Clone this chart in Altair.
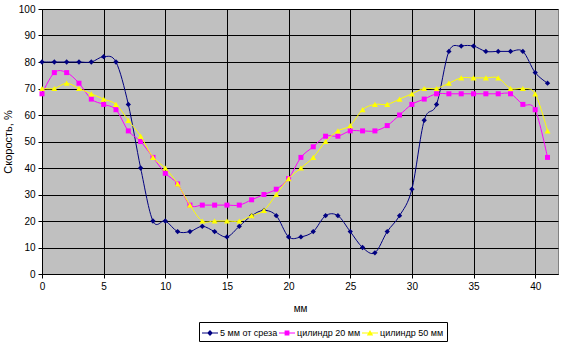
import altair as alt
import pandas as pd

x_mm = list(range(42))
series_names = ["5 мм от среза", "цилиндр 20 мм", "цилиндр 50 мм"]
s_5mm = [80, 80, 80, 80, 80, 82, 80, 64, 40, 20, 20, 16, 16, 18, 16, 14, 18, 22, 24, 22, 14,
         14, 16, 22, 22, 16, 10, 8, 16, 22, 32, 58, 64, 84, 86, 86, 84, 84, 84, 84, 76, 72]
s_cyl20 = [68, 76, 76, 72, 66, 64, 62, 54, 50, 44, 38, 34, 26, 26, 26, 26, 26, 28, 30, 32, 36,
           44, 48, 52, 52, 54, 54, 54, 56, 60, 64, 66, 68, 68, 68, 68, 68, 68, 68, 64, 62, 44]
s_cyl50 = [70, 70, 72, 70, 68, 66, 64, 58, 52, 44, 40, 34, 26, 20, 20, 20, 20, 22, 24, 30, 36,
           40, 44, 50, 54, 56, 62, 64, 64, 66, 68, 70, 70, 72, 74, 74, 74, 74, 70, 70, 68, 54]
colors = ["#000080", "#FF00FF", "#FFFF00"]
shapes = ["diamond", "square", "triangle-up"]
sizes = [28, 25, 36]
LINE_PART = "M-1,-0.065L1,-0.065L1,0.065L-1,0.065Z"
legend_paths = [
    LINE_PART + "M0,-0.36L0.36,0L0,0.36L-0.36,0Z",
    LINE_PART + "M-0.3,-0.3L0.3,-0.3L0.3,0.3L-0.3,0.3Z",
    LINE_PART + "M0,-0.38L0.4,0.3L-0.4,0.3Z",
]

rows = []
for name, vals in zip(series_names, [s_5mm, s_cyl20, s_cyl50]):
    for xv, yv in zip(x_mm, vals):
        rows.append({"x": xv, "y": yv, "series": name})
df = pd.DataFrame(rows)

FONT = "Liberation Sans"

shape_expr = (
    f"datum.value === '{series_names[0]}' ? '{legend_paths[0]}' : "
    f"datum.value === '{series_names[1]}' ? '{legend_paths[1]}' : '{legend_paths[2]}'"
)
color_expr = (
    f"datum.value === '{series_names[0]}' ? '{colors[0]}' : "
    f"datum.value === '{series_names[1]}' ? '{colors[1]}' : '{colors[2]}'"
)

x_enc = alt.X(
    "x:Q",
    scale=alt.Scale(domain=[0, 41.85], nice=False, zero=False),
    axis=alt.Axis(
        values=[0, 5, 10, 15, 20, 25, 30, 35, 40],
        title="мм",
        grid=True,
        gridColor="black",
        gridOpacity=1,
        domainColor="black",
        tickColor="black",
        tickSize=4,
        labelPadding=3,
        labelFont=FONT,
        labelFontSize=10,
        labelColor="black",
        titleFont=FONT,
        titleFontSize=10,
        titleFontWeight="normal",
        titleColor="black",
        titlePadding=12,
        labelFlush=False,
    ),
)
y_enc = alt.Y(
    "y:Q",
    scale=alt.Scale(domain=[0, 100], nice=False),
    axis=alt.Axis(
        values=list(range(0, 101, 10)),
        title="Скорость, %",
        grid=True,
        gridColor="black",
        gridOpacity=1,
        domainColor="black",
        tickColor="black",
        tickSize=4,
        labelPadding=3,
        labelFont=FONT,
        labelFontSize=10,
        labelColor="black",
        labelOverlap=False,
        titleFont=FONT,
        titleFontSize=11,
        titleFontWeight="normal",
        titleColor="black",
        titlePadding=5,
        labelFlush=False,
    ),
)

color_enc = alt.Color(
    "series:N",
    scale=alt.Scale(domain=series_names, range=colors),
    legend=alt.Legend(
        title=None,
        orient="none",
        legendX=157,
        legendY=313,
        direction="horizontal",
        columns=3,
        columnPadding=1,
        symbolSize=256,
        symbolStrokeWidth=0,
        symbolOpacity=1,
        symbolOffset=0,
        symbolType={"expr": shape_expr},
        symbolFillColor={"expr": color_expr},
        labelOffset=2,
        labelFont=FONT,
        labelFontSize=9,
        labelColor="black",
        padding=3,
        strokeColor="black",
        fillColor="white",
    ),
)

base = alt.Chart(df).encode(x=x_enc, y=y_enc, color=color_enc)

layers = []
for name, shp, sz in zip(series_names, shapes, sizes):
    sub = base.transform_filter(alt.datum.series == name)
    layers.append(sub.mark_line(interpolate="cardinal", strokeWidth=1).encode(order="x:Q"))
    layers.append(sub.mark_point(filled=True, opacity=1, shape=shp, size=sz, strokeWidth=0))

chart = (
    alt.layer(*layers)
    .properties(
        width=516,
        height=265,
        background="white",
        padding={"left": 42, "top": 9, "right": 22, "bottom": 69},
        autosize=alt.AutoSizeParams(type="none"),
    )
    .configure_view(fill="#C0C0C0", stroke="#808080", strokeWidth=1)
)

chart.save("out.html", embed_options={"renderer": "svg", "actions": False})
